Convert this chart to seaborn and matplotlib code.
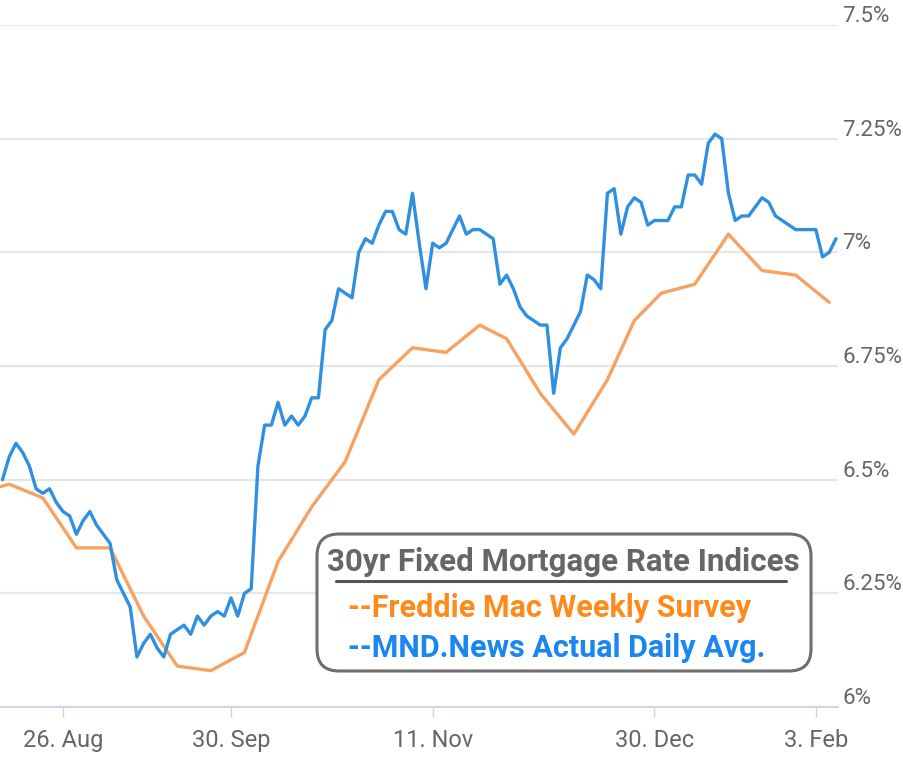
import numpy as np
import pandas as pd
import matplotlib
matplotlib.use("Agg")
import matplotlib.pyplot as plt
import seaborn as sns
from matplotlib.patches import FancyBboxPatch
from matplotlib.lines import Line2D
from matplotlib.transforms import IdentityTransform, ScaledTranslation

# ---- trading calendar (one x slot per business day) ----
cal_start = "2024-08-07"
cal_end = "2025-02-06"
holidays = ["2024-11-28", "2024-12-25", "2025-01-01"]

# ---- MND daily index, starting 13 Aug 2024 ----
mnd_start = "2024-08-13"
mnd_rates = [
    6.50, 6.55, 6.58, 6.56, 6.53, 6.48, 6.47, 6.48, 6.45, 6.43,
    6.42, 6.38, 6.41, 6.43, 6.40, 6.38, 6.36, 6.28, 6.25, 6.22,
    6.11, 6.14, 6.16, 6.13, 6.11, 6.16, 6.17, 6.18, 6.16, 6.20,
    6.18, 6.20, 6.21, 6.20, 6.24, 6.20, 6.25, 6.26,
    6.53, 6.62, 6.62, 6.67, 6.62, 6.64, 6.62, 6.64, 6.68, 6.68,
    6.83, 6.85, 6.92, 6.91, 6.90, 7.00, 7.03, 7.02, 7.06, 7.09,
    7.09, 7.05, 7.04, 7.13, 7.02, 6.92,
    7.02, 7.01, 7.02, 7.05, 7.08, 7.04, 7.05, 7.05, 7.04, 7.03,
    6.93, 6.95, 6.92, 6.88, 6.86, 6.85, 6.84, 6.84,
    6.69, 6.79, 6.81, 6.84, 6.87, 6.95, 6.94, 6.92,
    7.13, 7.14, 7.04, 7.10, 7.12, 7.11, 7.06, 7.07, 7.07, 7.07,
    7.10, 7.10, 7.17, 7.17, 7.15, 7.24, 7.26, 7.25, 7.13, 7.07,
    7.08, 7.08, 7.10, 7.12, 7.11, 7.08, 7.07, 7.06, 7.05, 7.05,
    7.05, 7.05, 6.99, 7.00, 7.03,
]

# ---- Freddie Mac weekly survey (plotted at survey-week Wednesday) ----
freddie_dates = [
    "2024-08-07", "2024-08-14", "2024-08-21", "2024-08-28", "2024-09-04",
    "2024-09-11", "2024-09-18", "2024-09-25", "2024-10-02", "2024-10-09",
    "2024-10-16", "2024-10-23", "2024-10-30", "2024-11-06", "2024-11-13",
    "2024-11-20", "2024-11-26", "2024-12-04", "2024-12-11", "2024-12-18",
    "2024-12-24", "2024-12-31", "2025-01-08", "2025-01-15", "2025-01-22",
    "2025-01-29", "2025-02-05",
]
freddie_rates = [
    6.47, 6.49, 6.46, 6.35, 6.35, 6.20, 6.09, 6.08, 6.12, 6.32,
    6.44, 6.54, 6.72, 6.79, 6.78, 6.84, 6.81, 6.69, 6.60, 6.72,
    6.85, 6.91, 6.93, 7.04, 6.96, 6.95, 6.89,
]

tick_dates = ["2024-08-26", "2024-09-30", "2024-11-11", "2024-12-30", "2025-02-03"]
tick_labels = ["26. Aug", "30. Sep", "11. Nov", "30. Dec", "3. Feb"]

y_ticks = [6.0, 6.25, 6.5, 6.75, 7.0, 7.25, 7.5]
y_tick_labels = ["6%", "6.25%", "6.5%", "6.75%", "7%", "7.25%", "7.5%"]

legend_title = "30yr Fixed Mortgage Rate Indices"
freddie_name = "--Freddie Mac Weekly Survey"
mnd_name = "--MND.News Actual Daily Avg."

# ---- build the ordinal positions ----
days = pd.bdate_range(cal_start, cal_end, freq="C", holidays=holidays)
slot = pd.Series(np.arange(len(days)), index=days)

mnd_days = days[days >= pd.Timestamp(mnd_start)][: len(mnd_rates)]
df = pd.concat([
    pd.DataFrame({"slot": slot[pd.to_datetime(freddie_dates)].values,
                  "rate": freddie_rates, "series": "Freddie"}),
    pd.DataFrame({"slot": slot[mnd_days].values,
                  "rate": mnd_rates, "series": "MND"}),
], ignore_index=True)

sns.set_theme(style="white")
plt.rcParams["font.family"] = ["Roboto", "DejaVu Sans"]

W, H = 904, 757
fig = plt.figure(figsize=(W / 100, H / 100), dpi=100)
fig.patch.set_facecolor("white")

plot_left, plot_right = 0, 838
plot_bottom, plot_top = 707, 25
ax = fig.add_axes([plot_left / W, 1 - plot_bottom / H,
                   (plot_right - plot_left) / W, (plot_bottom - plot_top) / H])
ax.set_facecolor("white")

sns.lineplot(data=df, x="slot", y="rate", hue="series",
             palette={"Freddie": "#f5a262", "MND": "#3090e0"},
             hue_order=["Freddie", "MND"], estimator=None, sort=True,
             linewidth=2.4, legend=False, ax=ax)

x0 = slot[pd.Timestamp(mnd_start)]
ax.set_xlim(x0 - 0.37, x0 + 124.3)
ax.set_ylim(y_ticks[0], y_ticks[-1])

# axes decoration
for side in ["left", "right", "top"]:
    ax.spines[side].set_visible(False)
ax.spines["bottom"].set_color("#ccd6eb")
ax.spines["bottom"].set_linewidth(1.4)

ax.set_yticks(y_ticks)
ax.set_yticklabels(y_tick_labels)
ax.yaxis.grid(True, color="#e6e6e6", linewidth=1.6)
ax.xaxis.grid(False)
ax.set_axisbelow(True)
ax.tick_params(axis="y", left=False, right=False, labelleft=False,
               labelright=True, length=0, pad=3, labelsize=16, labelcolor="#666666")
for lab in ax.get_yticklabels():
    lab.set_transform(lab.get_transform() + ScaledTranslation(0, 8 / 72, fig.dpi_scale_trans))

ax.set_xticks(slot[pd.to_datetime(tick_dates)].values)
ax.set_xticklabels(tick_labels)
ax.tick_params(axis="x", bottom=True, length=7.5, width=1, color="#ccd6eb",
               pad=8, labelsize=17, labelcolor="#666666")
ax.set_xlabel("")
ax.set_ylabel("")

# ---- legend panel ----
px = IdentityTransform()
box = FancyBboxPatch((317, H - 671), 494, 137,
                     boxstyle="round,pad=0,rounding_size=22",
                     facecolor="white", edgecolor="#6e6e6e", linewidth=2.2,
                     transform=px, zorder=10)
fig.add_artist(box)

fig.text(563, H - 571, legend_title, transform=px, ha="center", va="baseline",
         fontsize=22.5, fontweight="bold", color="#666666", zorder=11)
fig.add_artist(Line2D([336, 786], [H - 581, H - 581], transform=px,
                      color="#555555", linewidth=2.2, zorder=11))
fig.text(348, H - 617, freddie_name, transform=px, ha="left", va="baseline",
         fontsize=22, fontweight="bold", color="#ff8a1c", zorder=11)
fig.text(348, H - 657, mnd_name, transform=px, ha="left", va="baseline",
         fontsize=22, fontweight="bold", color="#1a86f2", zorder=11)

fig.savefig("out.png", dpi=100, facecolor="white")
